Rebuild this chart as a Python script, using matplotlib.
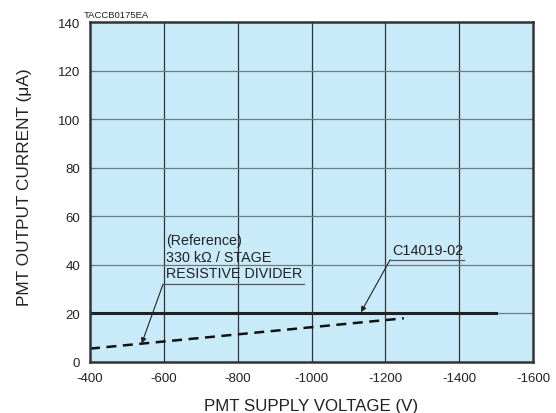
import matplotlib
matplotlib.use("Agg")
import matplotlib.pyplot as plt

plt.rcParams["font.family"] = ["Liberation Sans", "DejaVu Sans"]
plt.rcParams["axes.unicode_minus"] = False

# ======================
# Data
# ======================
c14019_v = [-400, -1500]
c14019_i = [20, 20]

ref_v = [-400, -1250]
ref_i = [5.5, 18]

x_ticks = [-400, -600, -800, -1000, -1200, -1400, -1600]
y_ticks = [0, 20, 40, 60, 80, 100, 120, 140]

fig = plt.figure(figsize=(5.56, 4.14), dpi=100)
ax = fig.add_axes([90 / 556, 1 - 363 / 414, 443 / 556, 340 / 414])
ax.set_facecolor("#c8eaf9")

ax.set_xlim(-400, -1600)
ax.set_ylim(0, 140)
ax.set_xticks(x_ticks)
ax.set_yticks(y_ticks)
ax.tick_params(length=0, pad=7, labelsize=9.5, colors="#222222")

# grid: vertical darker, horizontal grey
for xv in x_ticks[1:-1]:
    ax.axvline(xv, color="#333333", lw=0.9, zorder=1)
for yv in y_ticks[1:-1]:
    ax.axhline(yv, color="#6b7b84", lw=0.9, zorder=1)

for s in ax.spines.values():
    s.set_linewidth(1.8)
    s.set_color("#333333")
    s.set_zorder(5)

# ======================
# Curves
# ======================
ax.plot(c14019_v, c14019_i, color="#222222", lw=2.2, zorder=3)
ax.plot(ref_v, ref_i, color="#111111", lw=1.8, ls=(0, (4, 2.6)), zorder=3)

# ======================
# Annotations
# ======================
ax.text(-607, 33.6, "(Reference)\n330 k\u03a9 / STAGE\nRESISTIVE DIVIDER",
        fontsize=10.3, color="#222222", ha="left", va="bottom", linespacing=1.25)
ax.plot([-598, -980], [32.1, 32.1], color="#555555", lw=0.9, zorder=4)
ax.annotate("", xy=(-540, 7.6), xytext=(-598, 32.1),
            arrowprops=dict(arrowstyle="-|>", color="#222222", lw=0.8,
                            mutation_scale=8, shrinkA=0, shrinkB=0))

ax.text(-1218, 43.4, "C14019-02", fontsize=10.4, color="#222222",
        ha="left", va="bottom")
ax.plot([-1213, -1413], [42.1, 42.1], color="#555555", lw=0.9, zorder=4)
ax.annotate("", xy=(-1134, 20.5), xytext=(-1213, 42.1),
            arrowprops=dict(arrowstyle="-|>", color="#222222", lw=0.8,
                            mutation_scale=8, shrinkA=0, shrinkB=0))

ax.set_xlabel("PMT SUPPLY VOLTAGE (V)", fontsize=12.2, color="#222222", labelpad=10)
ax.set_ylabel("PMT OUTPUT CURRENT (\u03bcA)", fontsize=12.4, color="#222222")
ax.yaxis.set_label_coords(-0.132, 0.518)

fig.text(84 / 556, 1 - 15 / 414, "TACCB0175EA", fontsize=6.8, color="#222222",
         ha="left", va="center")

fig.savefig("out.png", dpi=100)
